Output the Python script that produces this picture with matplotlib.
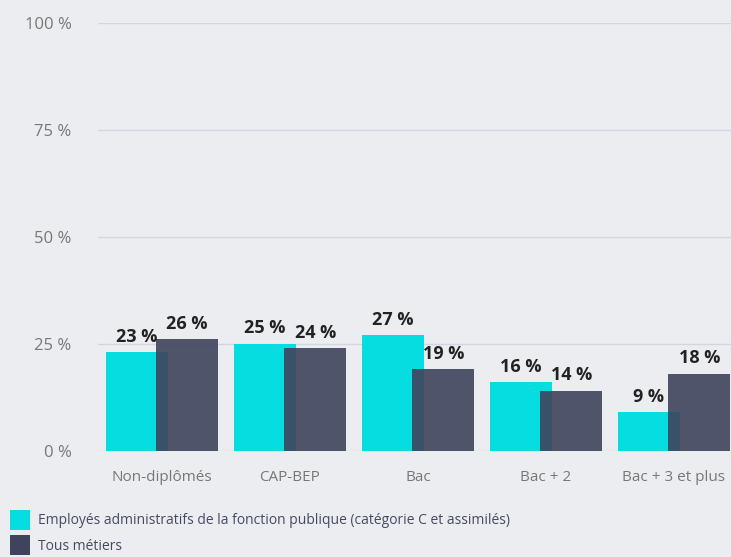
import matplotlib
matplotlib.use("Agg")
import matplotlib.pyplot as plt
from matplotlib.patches import Rectangle
import numpy as np

categories = ["Non-diplômés", "CAP-BEP", "Bac", "Bac + 2", "Bac + 3 et plus"]
employes = [23, 25, 27, 16, 9]
tous = [26, 24, 19, 14, 18]
series_names = ["Employés administratifs de la fonction publique (catégorie C et assimilés)",
                "Tous métiers"]
yticks = [0, 25, 50, 75, 100]
ytick_labels = ["0 %", "25 %", "50 %", "75 %", "100 %"]

BG = "#ecedf0"
CYAN = "#05dde0"
DARK = "#3f435c"
GRID = "#d0d7e1"
TICK = "#777777"

W, H = 731, 557
fig = plt.figure(figsize=(W / 100, H / 100), dpi=100, facecolor=BG)
ax = fig.add_axes([98 / W, 106.3 / H, 640 / W, 428 / H], facecolor=BG)

x = np.arange(len(categories))
off = 0.197
bw = 0.484
ax.bar(x - off, employes, width=bw, color=CYAN, zorder=2)
ax.bar(x + off, tous, width=bw, color=DARK, alpha=0.9, zorder=3)

for xi, v in zip(x - off, employes):
    ax.annotate(f"{v} %", (xi, v), xytext=(0, 7.5), textcoords="offset points",
                ha="center", va="baseline", fontsize=13, fontweight="bold",
                family="Open Sans", color="#222222", zorder=5)
for xi, v in zip(x + off, tous):
    ax.annotate(f"{v} %", (xi, v), xytext=(0, 7.5), textcoords="offset points",
                ha="center", va="baseline", fontsize=13, fontweight="bold",
                family="Open Sans", color="#222222", zorder=5)

ax.set_xlim(-0.5, len(categories) - 0.5)
ax.set_ylim(0, 100)
ax.set_yticks(yticks)
ax.set_yticklabels(ytick_labels, family="Open Sans", fontsize=12, color=TICK)
ax.set_xticks(x)
ax.set_xticklabels(categories, family="Open Sans", fontsize=11, color=TICK)
ax.tick_params(axis="both", length=0)
ax.tick_params(axis="y", pad=19)
ax.tick_params(axis="x", pad=14)
for s in ax.spines.values():
    s.set_visible(False)
ax.grid(axis="y", color=GRID, linewidth=1, zorder=0)
ax.set_axisbelow(True)

# legend
for i, (name, col) in enumerate(zip(series_names, [CYAN, DARK])):
    y0 = 1 - (510 + 25 * i + 20) / H
    fig.patches.append(Rectangle((10 / W, y0), 20 / W, 20 / H, transform=fig.transFigure,
                                 facecolor=col, edgecolor="none"))
    fig.text(38 / W, 1 - (521 + 25 * i) / H, name, family="Open Sans", fontsize=10,
             color="#454a62", va="center", ha="left")

fig.savefig("out.png", dpi=100, facecolor=BG)
